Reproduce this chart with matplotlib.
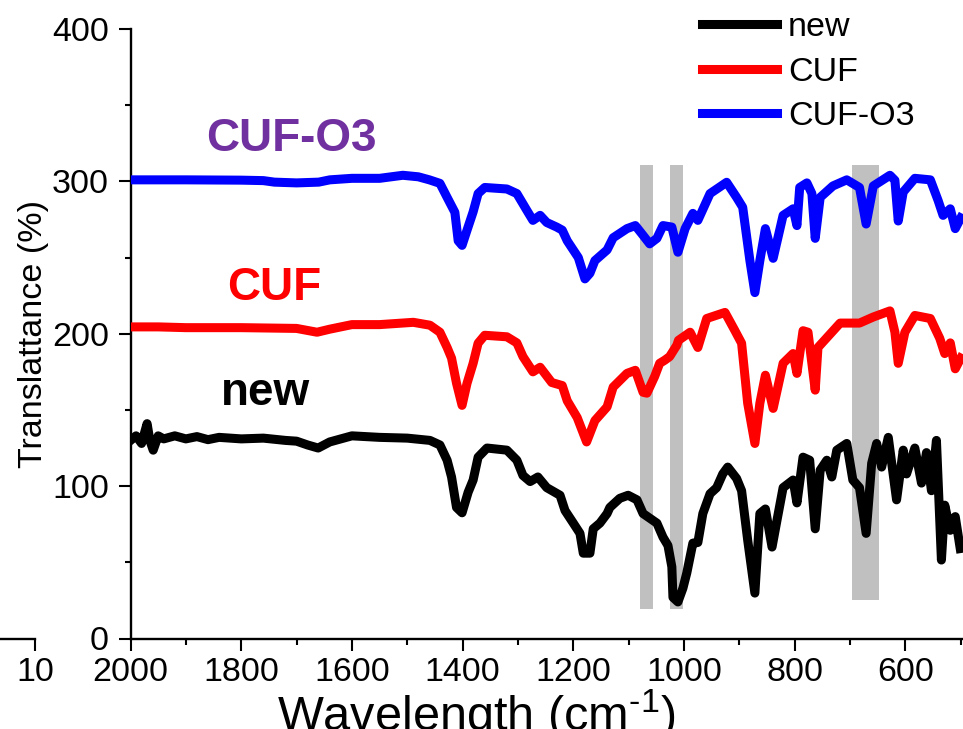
import numpy as np
import matplotlib
matplotlib.use("Agg")
import matplotlib.pyplot as plt

plt.rcParams['font.family'] = ['Liberation Sans', 'DejaVu Sans']
plt.rcParams['mathtext.fontset'] = 'custom'
plt.rcParams['mathtext.rm'] = 'Liberation Sans'
plt.rcParams['mathtext.it'] = 'Liberation Sans:italic'
plt.rcParams['mathtext.bf'] = 'Liberation Sans:bold'

# spectra (wavenumber, transmittance with offsets)
cuf_o3_x = [2000, 1900, 1800, 1760, 1740, 1700, 1660, 1640, 1600, 1550, 1508, 1480, 1460,
            1441, 1428, 1414, 1408, 1401, 1392, 1381, 1372, 1360, 1340, 1320, 1302, 1284,
            1273, 1260, 1248, 1230, 1220, 1211, 1191, 1179, 1170, 1161, 1139, 1128, 1103,
            1088, 1074, 1062, 1049, 1038, 1022, 1011, 998, 984, 975, 953, 923, 905, 894,
            881, 872, 863, 853, 839, 821, 803, 796, 791, 778, 769, 763, 754, 731, 706, 683,
            671, 658, 628, 619, 613, 604, 583, 555, 541, 532, 519, 510, 500]
cuf_o3_y = [301, 301, 300.8, 300.5, 299.5, 299, 299.5, 301, 302, 302, 304, 303, 301,
            298.7, 289.5, 279.7, 261, 258, 268, 280, 292, 296, 295.5, 295, 292, 281,
            274.4, 277.7, 273, 270, 268, 261, 250, 236, 239.7, 248, 255, 263, 269,
            271, 264.6, 259, 262.6, 271, 270, 253.5, 269, 279, 274.4, 292, 299.4, 289.5, 283,
            248, 227, 248, 269, 249.5, 277.7, 282, 271, 296, 299, 292, 262.6, 289.5, 297, 301, 296,
            272, 297, 304, 300.7, 274, 293, 302, 301, 287.5, 277.7, 282, 269, 276]

cuf_x = [2000, 1950, 1900, 1800, 1700, 1663, 1640, 1600, 1550, 1489, 1459, 1441, 1428,
         1420, 1411, 1401, 1392, 1381, 1372, 1360, 1320, 1302, 1291, 1273, 1260, 1239,
         1220, 1211, 1193, 1176, 1161, 1139, 1128, 1103, 1088, 1074, 1067, 1053, 1044,
         1035, 1026, 1013, 1010, 989, 975, 959, 926, 908, 896, 885, 872, 863, 853, 839,
         821, 803, 796, 785, 776, 763, 758, 718, 683, 658, 628, 619, 613, 601, 583, 555,
         538, 529, 519, 510, 500]
cuf_y = [204.5, 204.5, 204, 204, 203.5, 201, 203, 206, 206, 207.5, 205.6, 201, 191,
         184, 167.5, 153, 167.5, 180.6, 193.8, 199, 198, 194, 185, 175, 178, 168,
         166, 156, 145, 129, 143, 152, 165, 174, 176, 161.6, 161, 172, 180.6,
         182.6, 185, 192.5, 195.7, 201, 191, 210, 214, 202, 193.8, 154.4, 128, 154.4, 172.8, 151,
         180.6, 187, 174, 202, 201, 163, 191, 207, 207, 211, 215, 201, 180.6, 201, 212, 210,
         197, 187, 194, 177, 184]

new_x = [2000, 1990, 1980, 1970, 1965, 1959, 1950, 1940, 1920, 1900, 1880, 1860, 1840,
         1800, 1760, 1720, 1700, 1680, 1661, 1640, 1600, 1550, 1500, 1459, 1441, 1428,
         1420, 1411, 1401, 1390, 1381, 1372, 1356, 1320, 1302, 1291, 1278, 1264, 1248,
         1224, 1215, 1200, 1188, 1182, 1170, 1164, 1152, 1139, 1134, 1116, 1101, 1085,
         1074, 1049, 1038, 1029, 1022, 1020, 1011, 1002, 995, 984, 975, 966, 953, 941,
         930, 921, 905, 896, 885, 872, 863, 853, 841, 832, 821, 803, 796, 785, 773, 763,
         754, 742, 733, 724, 706, 695, 683, 671, 661, 652, 643, 631, 616, 604, 598, 583,
         571, 562, 553, 544, 535, 529, 519, 510, 501]
new_y = [130, 133, 128, 141, 130, 123.6, 133, 131, 133, 131, 132.5, 130.5, 132,
         131, 131.5, 130, 129.5, 127, 125, 129, 133, 132, 131.5, 130, 127, 117,
         106, 86, 82.5, 96, 104, 119, 125, 123.6, 117, 107, 103, 106, 99,
         94, 84, 75.7, 69, 56, 56, 72, 75.7, 82, 86, 92, 94, 91,
         82, 75.7, 66.5, 61, 47, 27, 24, 33, 43, 62.6, 63, 82, 95, 99,
         108, 112.5, 105, 97, 64.6, 29.8, 82, 85, 60, 77.7, 99, 104, 89, 119, 117, 72,
         110.5, 117, 106, 123.6, 128, 104, 99, 69, 115, 128, 112.5, 132, 91, 123.6, 108, 125,
         102, 122, 97, 130, 51.5, 87.5, 71, 80, 59]

# grey highlight bands (left edge, right edge, bottom, top)
band_lo = [1079.5, 1025, 696]
band_hi = [1056, 1001.5, 648]
band_bottom = [19.4, 19.4, 25.2]
band_top = [311, 311, 311]

fig = plt.figure(figsize=(9.63, 7.29), dpi=100)
ax = fig.add_axes([130.5 / 963, 90.5 / 729, 832.5 / 963, 609.5 / 729])

for lo, hi, b, t in zip(band_lo, band_hi, band_bottom, band_top):
    ax.fill_between([lo, hi], [b, b], [t, t], color='#c0c0c0', lw=0, zorder=1)

lw = 6.5
ax.plot(new_x, new_y, color='black', lw=lw, solid_joinstyle='round', label='new', zorder=3)
ax.plot(cuf_x, cuf_y, color='#ff0000', lw=lw, solid_joinstyle='round', label='CUF', zorder=3)
ax.plot(cuf_o3_x, cuf_o3_y, color='#0000ff', lw=lw, solid_joinstyle='round', label='CUF-O3', zorder=3)

ax.set_xlim(2000, 496)
ax.set_ylim(0, 400)
ax.set_xticks([2000, 1800, 1600, 1400, 1200, 1000, 800, 600])
ax.set_xticks(np.arange(1900, 490, -200), minor=True)
ax.set_yticks([0, 100, 200, 300, 400])
ax.set_yticks([50, 150, 250, 350], minor=True)
for s in ['top', 'right']:
    ax.spines[s].set_visible(False)
for s in ['left', 'bottom']:
    ax.spines[s].set_linewidth(1.7)
ax.tick_params(which='major', direction='out', length=8.6, width=1.5, labelsize=24.5)
ax.tick_params(which='minor', direction='out', length=4.3, width=1.5)
ax.tick_params(axis='x', pad=4.5)
ax.tick_params(axis='y', pad=7)
ax.set_ylabel('Translattance (%)', fontsize=24.5, labelpad=2)

ax.text(1863, 320, 'CUF-O3', color='#7030a0', fontsize=33, fontweight='bold', ha='left', va='baseline')
ax.text(1826, 222, 'CUF', color='#ff0000', fontsize=33, fontweight='bold', ha='left', va='baseline')
ax.text(1837, 153, 'new', color='black', fontsize=33, fontweight='bold', ha='left', va='baseline')

leg = ax.legend(loc='upper left', bbox_to_anchor=(702 / 963, 1 - 12 / 729),
                bbox_transform=fig.transFigure, frameon=False, fontsize=24.5,
                handlelength=2.2, handletextpad=0.33, labelspacing=0.4,
                borderpad=0, borderaxespad=0)

fig.text(476 / 963, -2 / 729, r'Wavelength (cm$^{\text{-1}}$)', fontsize=35, ha='center', va='baseline')

# leftover axis from a neighbouring panel
ghost = fig.add_axes([-0.2, 90.5 / 729, 0.2 + 35 / 963, 0.05])
ghost.set_xlim(0, 10)
ghost.set_xticks([10])
ghost.set_yticks([])
for s in ['top', 'right', 'left']:
    ghost.spines[s].set_visible(False)
ghost.spines['bottom'].set_linewidth(1.7)
ghost.tick_params(direction='out', length=8.6, width=1.5, labelsize=24.5, pad=4.5)
ghost.patch.set_alpha(0)

fig.savefig('out.png', dpi=100)
